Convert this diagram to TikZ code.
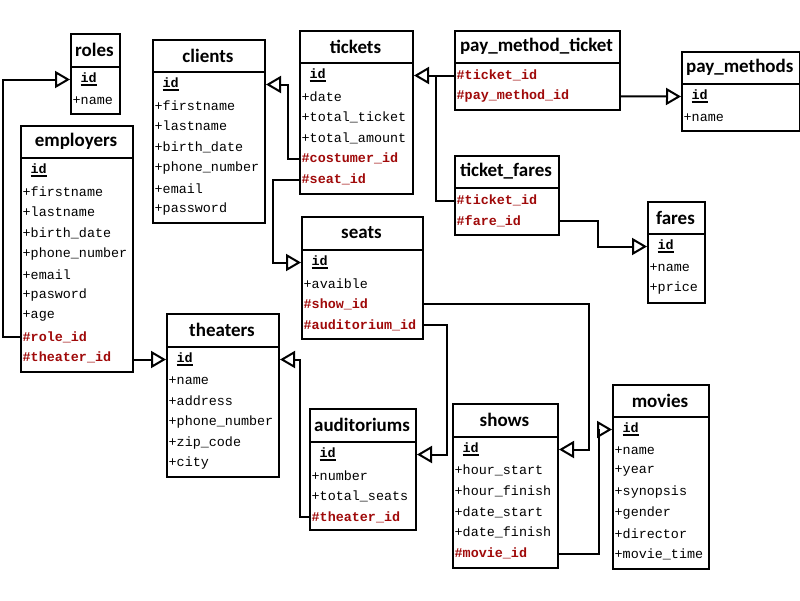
\documentclass[tikz,border=0pt]{standalone}
\usepackage{fontspec}
\setmonofont{Liberation Mono}
\newfontfamily\titlefont{Carlito}
\usetikzlibrary{arrows.meta,calc}
\definecolor{fkred}{RGB}{160,10,10}
\newcommand{\pk}{\hspace*{8pt}\rlap{\rule[-3.5pt]{16.5pt}{2.6pt}}\textbf{id}}
\newcommand{\fk}[1]{\textcolor{fkred}{\bfseries #1}}
\newcommand{\erentity}[8]{%
  \node[entity, minimum width={#4-#2}, minimum height={#6-#3}, anchor=north west] (#1) at (#2,#3) {};
  \node[titletext] (#1-t) at ({(#2+#4)/2},{(#3+#5)/2}) {#7};
  \draw[frame] (#2,#5) -- (#4,#5);
  \foreach [count=\i] \r in {#8} {\node[rowtext] (#1-\i) at (#2+2.5,{#5+12.5+20.8*(\i-1)}) {\r};}
}
\begin{document}
\begin{tikzpicture}[x=1pt,y=-1pt,
  entity/.style={draw, line width=2pt, inner sep=0pt, fill=white},
  frame/.style={line width=2pt},
  titletext/.style={font=\titlefont\bfseries\fontsize{19}{21}\selectfont, inner sep=0pt},
  rowtext/.style={font=\ttfamily\fontsize{13.4}{15}\selectfont, anchor=west, inner sep=0pt},
  conn/.style={line width=2pt, -{Triangle[open, length=15pt, width=17pt, line width=2pt]}},
  link/.style={line width=2pt}]
\useasboundingbox (0,0) rectangle (800,600);

\erentity{roles}{70}{33}{119}{67}{113}{roles}{{\pk},+name}
\erentity{clients}{152}{39}{264}{72}{222}{clients}{{\pk},+firstname,+lastname,+birth\_date,+phone\_number,+email,+password}
\erentity{employers}{20}{125}{132}{158}{371}{employers}{{\pk},+firstname,+lastname,+birth\_date,+phone\_number,+email,+pasword,+age,{\fk{\#role\_id}},{\fk{\#theater\_id}}}
\erentity{tickets}{299}{30}{412}{63}{193}{tickets}{{\pk},+date,+total\_ticket,+total\_amount,{\fk{\#costumer\_id}},{\fk{\#seat\_id}}}
\erentity{pmt}{454}{30}{619}{63}{109}{pay\_method\_ticket}{{\fk{\#ticket\_id}},{\fk{\#pay\_method\_id}}}
\erentity{tf}{454}{155}{558}{188}{234}{ticket\_fares}{{\fk{\#ticket\_id}},{\fk{\#fare\_id}}}
\erentity{pm}{681}{51}{798.5}{84}{130}{pay\_methods}{{\pk},+name}
\erentity{fares}{647}{201}{704}{234}{302}{fares}{{\pk},+name,+price}
\erentity{seats}{301}{216}{422}{250}{338}{seats}{{\pk},+avaible,{\fk{\#show\_id}},{\fk{\#auditorium\_id}}}
\erentity{theaters}{166}{313}{278}{347}{476}{theaters}{{\pk},+name,+address,+phone\_number,+zip\_code,+city}
\erentity{aud}{309}{408}{415}{442}{529}{auditoriums}{{\pk},+number,+total\_seats,{\fk{\#theater\_id}}}
\erentity{shows}{452}{403}{557}{437}{567}{shows}{{\pk},+hour\_start,+hour\_finish,+date\_start,+date\_finish,{\fk{\#movie\_id}}}
\erentity{movies}{612}{384}{708}{417}{568}{movies}{{\pk},+name,+year,+synopsis,+gender,+director,+movie\_time}

% connectors
\draw[conn] (employers.west |- employers-9) -- ++(-17,0) |- (roles.west |- roles-1);
\draw[conn] (employers.east |- theaters-1) -- (theaters.west |- theaters-1);
\draw[conn] (tickets.west |- tickets-5) -- ++(-11,0) |- (clients.east |- clients-1);
\draw[conn] (tickets.west |- tickets-6) -- ++(-26,0) |- (seats.west |- seats-1);
\draw[conn] (pmt.west |- pmt-1) -- (tickets.east |- tickets-1);
\coordinate (j1) at ($(tickets.east |- tickets-1)+(22,0)$);
\draw[link] (tf.west |- tf-1) -| (j1);
\draw[conn] (pmt.east |- pmt-2) -- (pm.west |- pm-1);
\draw[conn] (tf.east |- tf-2) -- ++(38,0) |- (fares.west |- fares-1);
\draw[conn] (seats.east |- seats-3) -- ++(165,0) |- (shows.east |- shows-1);
\draw[conn] (seats.east |- seats-4) -- ++(23,0) |- (aud.east |- aud-1);
\draw[conn] (aud.west |- aud-4) -- ++(-9,0) |- (theaters.east |- theaters-1);
\draw[conn] (shows.east |- shows-6) -- ++(40,0) |- (movies.west |- movies-1);
\end{tikzpicture}
\end{document}
